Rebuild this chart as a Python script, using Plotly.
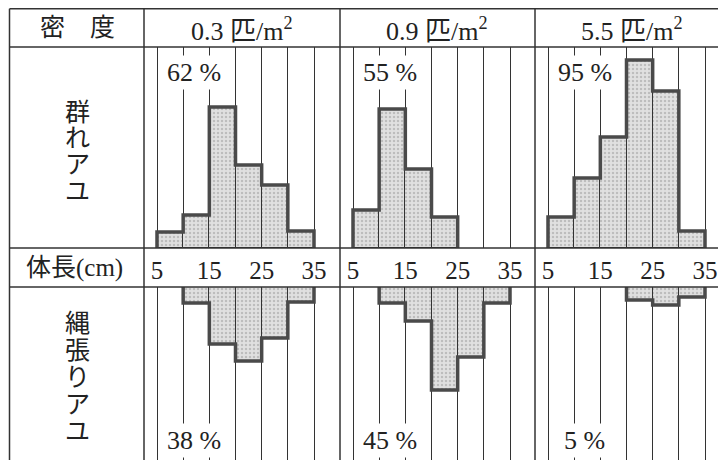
import plotly.graph_objects as go

# ---- data ----
density_labels = ["0.3 匹/m<sup>2</sup>", "0.9 匹/m<sup>2</sup>", "5.5 匹/m<sup>2</sup>"]
bin_edges = [5, 10, 15, 20, 25, 30, 35]
label_tick0, label_step = 5, 10   # tick labels 5, 15, 25, 35
grid_step = 5                     # vertical rule every 5 cm

# relative frequency (arbitrary units) per 5 cm body-length class
school_03 = [16, 33, 141, 83, 63, 17]
school_09 = [38, 139, 79, 31, 0, 0]
school_55 = [31, 70, 111, 188, 157, 17]
territ_03 = [0, 16, 57, 74, 51, 15]
territ_09 = [0, 16, 34, 103, 70, 16]
territ_55 = [0, 0, 0, 13, 18, 10]

school_pct = ["62 %", "55 %", "95 %"]
territ_pct = ["38 %", "45 %", "5 %"]

school_sets = [school_03, school_09, school_55]
territ_sets = [territ_03, territ_09, territ_55]

# ---- layout geometry (page pixels; the page body has an 8 px margin) ----
OFF = 8
W, H = 726 - OFF, 460 - OFF
tbl_left, tbl_top = 9.5, 8.8
y_head, y_mid1, y_mid2 = 47, 248, 287
col1_right = 144
col_left = [144, 340, 535]
col_right = [340, 535, 726]
x5_px = [157, 353, 548]
s = 157 / 30.0  # px per cm

def fx(px):
    return (px - OFF) / W

def fy(py):
    return 1 - (py - OFF) / H

FONT = "Liberation Serif, Noto Sans CJK JP, serif"
FILL = "#d8d8d8"
EDGE = "#4a4a4a"
LINE = "#333333"

fig = go.Figure()
layout_axes = {}


def outline(vals):
    idx = [k for k, v in enumerate(vals) if v > 0]
    a, b = idx[0], idx[-1]
    xs, ys = [bin_edges[a]], [0]
    for k in range(a, b + 1):
        xs += [bin_edges[k], bin_edges[k + 1]]
        ys += [vals[k], vals[k]]
    xs.append(bin_edges[b + 1])
    ys.append(0)
    return xs, ys


up_range = [0, y_mid1 - y_head]
lo_range = [460 - y_mid2, 0]

for i in range(3):
    nu, nl = 2 * i + 1, 2 * i + 2
    xr = [5 - (x5_px[i] - col_left[i]) / s, 5 + (col_right[i] - x5_px[i]) / s]
    dom = [fx(col_left[i]), min(1, fx(col_right[i]))]
    common = dict(domain=dom, range=xr, tickmode="linear", tick0=label_tick0,
                  dtick=label_step, showgrid=True, gridcolor=LINE, gridwidth=1,
                  minor=dict(tick0=label_tick0, dtick=grid_step, showgrid=True,
                             gridcolor=LINE, gridwidth=1, ticks=""),
                  zeroline=False, showline=False, ticks="", fixedrange=True)
    layout_axes[f"xaxis{nu}"] = dict(common, anchor=f"y{nu}", showticklabels=True,
                                     side="bottom",
                                     tickfont=dict(family=FONT, size=25, color="#222"),
                                     ticklabelstandoff=5)
    layout_axes[f"xaxis{nl}"] = dict(common, anchor=f"y{nl}", showticklabels=False)
    layout_axes[f"yaxis{nu}"] = dict(domain=[fy(y_mid1), fy(y_head)], range=up_range,
                                     anchor=f"x{nu}", visible=False, fixedrange=True)
    layout_axes[f"yaxis{nl}"] = dict(domain=[0, fy(y_mid2)], range=lo_range,
                                     anchor=f"x{nl}", visible=False, fixedrange=True)

    for vals, n in ((school_sets[i], nu), (territ_sets[i], nl)):
        cx = [(bin_edges[k] + bin_edges[k + 1]) / 2 for k in range(len(vals)) if vals[k] > 0]
        cy = [v for v in vals if v > 0]
        fig.add_trace(go.Bar(
            x=cx, y=cy, width=5, xaxis=f"x{n}", yaxis=f"y{n}",
            marker=dict(color=FILL, line=dict(color=LINE, width=1),
                        pattern=dict(shape=".", fgcolor="#999999", bgcolor="#e0e0e0",
                                     size=4, solidity=0.3)),
            showlegend=False, hoverinfo="skip"))
        ox, oy = outline(vals)
        fig.add_trace(go.Scatter(
            x=ox, y=oy, mode="lines", xaxis=f"x{n}", yaxis=f"y{n}",
            line=dict(color=EDGE, width=3.5), showlegend=False, hoverinfo="skip"))

fig.update_layout(**layout_axes)

# ---- table lines ----
shapes = []
def hline(py, x0=tbl_left, x1=726):
    shapes.append(dict(type="line", xref="paper", yref="paper", x0=fx(x0), x1=fx(x1),
                       y0=fy(py), y1=fy(py), line=dict(color=LINE, width=1.5)))
def vline(px, y0=tbl_top, y1=460):
    shapes.append(dict(type="line", xref="paper", yref="paper", x0=fx(px), x1=fx(px),
                       y0=fy(y0), y1=fy(y1), line=dict(color=LINE, width=1.5)))
for py in (tbl_top, y_head, y_mid1, y_mid2):
    hline(py)
for px in (tbl_left, col1_right, col_left[1], col_left[2]):
    vline(px)

# ---- text ----
ann = []
def text(x, y, t, size, xref="paper", bg=None):
    d = dict(x=x, y=y, xref=xref, yref="paper", text=t, showarrow=False,
             font=dict(family=FONT, size=size, color="#222"),
             xanchor="center", yanchor="middle")
    if bg:
        d.update(bgcolor=bg, borderpad=2)
    ann.append(d)

text(fx(77), fy(28), "密　度", 25)
text(fx(74), fy(268), "体長(cm)", 25)
head_cx = [242, 437, 632]
for i in range(3):
    text(fx(head_cx[i]), fy(29), density_labels[i], 26)
    text(12, fy(72), school_pct[i], 26, xref=f"x{2*i+1}", bg="white")
    text(12, fy(440), territ_pct[i], 26, xref=f"x{2*i+2}", bg="white")

for k, ch in enumerate("群れアユ"):
    text(fx(77), fy(113 + 26 * k), ch, 25)
for k, ch in enumerate("縄張りアユ"):
    text(fx(77), fy(323 + 27 * k), ch, 25)

fig.update_layout(width=W, height=H, margin=dict(l=0, r=0, t=0, b=0),
                  paper_bgcolor="white", plot_bgcolor="white", bargap=0,
                  shapes=shapes, annotations=ann)

fig.write_html("out.html")
